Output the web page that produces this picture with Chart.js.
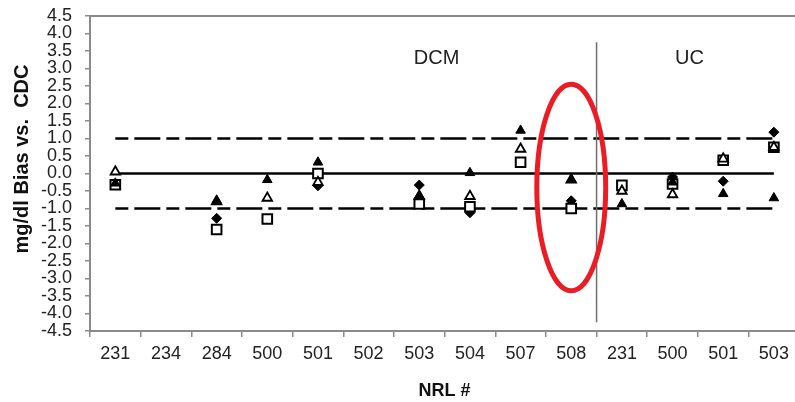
<!DOCTYPE html>
<html>
<head>
<meta charset="utf-8">
<script src="https://cdn.jsdelivr.net/npm/chart.js@4.4.1/dist/chart.umd.min.js"></script>
<style>
  html, body { margin: 0; padding: 0; background: #fff; overflow: hidden; }
</style>
</head>
<body>
<canvas id="biasChart" width="808" height="402"></canvas>
<script>
// NRL lab numbers (DCM group then UC group)
const nrlLabels = ['231', '234', '284', '500', '501', '502', '503', '504', '507', '508', '231', '500', '501', '503'];

// bias values, one array per marker series
const diamondBias   = [-0.30, null, -1.28, -1.30, -0.35, null, -0.33, -1.12, 0.32, -0.78, -0.36, -0.10, -0.22, 1.18];
const squareBias    = [-0.32, null, -1.60, -1.30, 0.00, null, -0.87, -0.95, 0.32, -1.00, -0.34, -0.30, 0.38, 0.75];
const openTriBias   = [0.05, null, -0.80, -0.70, -0.25, null, -0.65, -0.65, 0.70, -0.18, -0.50, -0.60, 0.42, 0.75];
const filledTriBias = [-0.28, null, -0.77, -0.18, 0.32, null, -0.63, 0.02, 1.23, -0.17, -0.87, -0.25, -0.58, -0.70];

// reference lines
const zeroLine  = nrlLabels.map(() => 0);
const upperLine = nrlLabels.map(() => 1);
const lowerLine = nrlLabels.map(() => -1);

const yTicks = [-4.5, -4.0, -3.5, -3.0, -2.5, -2.0, -1.5, -1.0, -0.5, 0.0, 0.5, 1.0, 1.5, 2.0, 2.5, 3.0, 3.5, 4.0, 4.5];

const FONT = "'Liberation Sans', Arial, sans-serif";
const AXIS_GREY = '#8a8a8a';

// separator, group names, ellipse and the y title
const extrasPlugin = {
    id: 'extras',
    afterDatasetsDraw(chart) {
        const ctx = chart.ctx;
        const xs = chart.scales.x;
        const ys = chart.scales.y;
        const area = chart.chartArea;

        ctx.save();
        // top border
        ctx.strokeStyle = AXIS_GREY;
        ctx.lineWidth = 2;
        ctx.beginPath();
        ctx.moveTo(area.left, area.top);
        ctx.lineTo(area.right, area.top);
        ctx.stroke();

        // vertical divider between DCM and UC
        const sepX = (xs.getPixelForValue(9) + xs.getPixelForValue(10)) / 2;
        ctx.strokeStyle = '#6e6e6e';
        ctx.lineWidth = 1.5;
        ctx.beginPath();
        ctx.moveTo(sepX, ys.getPixelForValue(3.75));
        ctx.lineTo(sepX, ys.getPixelForValue(-4.25));
        ctx.stroke();

        // group names
        ctx.fillStyle = '#222';
        ctx.font = '20px ' + FONT;
        ctx.textAlign = 'center';
        ctx.textBaseline = 'middle';
        ctx.fillText('DCM', (xs.getPixelForValue(6) + xs.getPixelForValue(7)) / 2 - 8, ys.getPixelForValue(3.3));
        ctx.fillText('UC', xs.getPixelForValue(11) + 17, ys.getPixelForValue(3.3));

        // red ellipse around lab 508
        const cx = xs.getPixelForValue(9);
        const cy = ys.getPixelForValue(-0.4);
        const rx = (xs.getPixelForValue(10) - xs.getPixelForValue(9)) * 0.68;
        const ry = Math.abs(ys.getPixelForValue(2.95) - ys.getPixelForValue(0));
        ctx.strokeStyle = '#ec1c24';
        ctx.lineWidth = 5;
        ctx.beginPath();
        ctx.ellipse(cx, cy, rx, ry, 0, 0, Math.PI * 2);
        ctx.stroke();

        // y axis title
        ctx.fillStyle = '#111';
        ctx.font = 'bold 20px ' + FONT;
        ctx.translate(22, 159);
        ctx.rotate(-Math.PI / 2);
        ctx.fillText('mg/dl Bias vs.  CDC', 0, 0);
        ctx.restore();
    }
};

function refLine(data, dash, order) {
    return {
        type: 'line',
        data: data,
        borderColor: '#000',
        borderWidth: 2.5,
        borderDash: dash,
        pointRadius: 0,
        fill: false,
        order: order
    };
}

function markers(data, style, fill, radius, border, order) {
    return {
        type: 'line',
        data: data,
        showLine: false,
        pointStyle: style,
        pointRadius: radius,
        pointBackgroundColor: fill,
        pointBorderColor: '#000',
        pointBorderWidth: border,
        order: order
    };
}

const ctx = document.getElementById('biasChart').getContext('2d');
const biasChart = new Chart(ctx, {
    type: 'line',
    data: {
        labels: nrlLabels,
        datasets: [
            refLine(zeroLine, [], 7),
            refLine(upperLine, [13, 6, 26, 6], 6),
            refLine(lowerLine, [13, 6, 26, 6], 5),
            markers(diamondBias, 'rectRot', '#000', 5, 1, 4),
            markers(squareBias, 'rect', '#fff', 6.8, 2, 3),
            markers(openTriBias, 'triangle', '#fff', 5.5, 1.8, 2),
            markers(filledTriBias, 'triangle', '#000', 5.5, 1, 1)
        ]
    },
    options: {
        responsive: false,
        animation: false,
        devicePixelRatio: 1,
        layout: { padding: { top: 16, left: 0, right: 0, bottom: 0 } },
        plugins: {
            legend: { display: false },
            tooltip: { enabled: false }
        },
        scales: {
            x: {
                offset: true,
                grid: {
                    display: true,
                    drawOnChartArea: false,
                    offset: true,
                    tickLength: 6,
                    color: AXIS_GREY,
                    lineWidth: 1.5
                },
                border: { color: AXIS_GREY, width: 2 },
                ticks: {
                    autoSkip: false,
                    maxRotation: 0,
                    padding: 6,
                    color: '#222',
                    font: { family: FONT, size: 18 }
                },
                title: {
                    display: true,
                    text: 'NRL #',
                    color: '#111',
                    font: { family: FONT, size: 18, weight: 'bold' },
                    padding: { top: 7, bottom: 0 }
                },
                afterFit(scale) { scale.height = 71; }
            },
            y: {
                min: -4.5,
                max: 4.5,
                afterBuildTicks(scale) {
                    scale.ticks = yTicks.map(v => ({ value: v }));
                },
                grid: {
                    display: true,
                    drawOnChartArea: false,
                    tickLength: 5,
                    color: AXIS_GREY,
                    lineWidth: 1.5
                },
                border: { color: AXIS_GREY, width: 2 },
                ticks: {
                    autoSkip: false,
                    padding: 13,
                    color: '#222',
                    font: { family: FONT, size: 18 },
                    callback: function(value) {
                        return Number(value).toFixed(1);
                    }
                },
                afterFit(scale) {
                    scale.width = 90;
                    scale.paddingTop = 0;
                    scale.paddingBottom = 0;
                }
            }
        }
    },
    plugins: [extrasPlugin]
});
</script>
</body>
</html>
